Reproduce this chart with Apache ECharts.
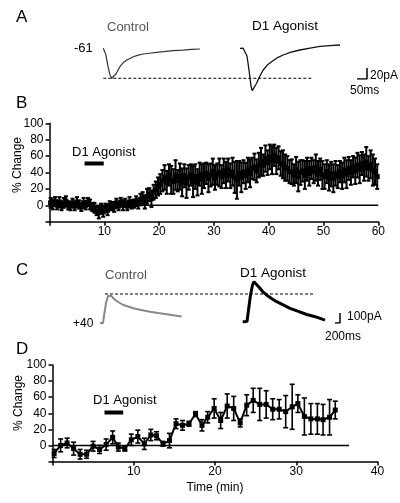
<!DOCTYPE html>
<html><head><meta charset="utf-8">
<script src="https://cdn.jsdelivr.net/npm/echarts/dist/echarts.min.js"></script>
<style>html,body{margin:0;padding:0;background:#fff}#c{width:400px;height:503px}</style>
</head><body><div id="c"></div>
<script>
// ---------- Panel B: % change, long recording (sampled every 0.4 min from 0.2 min) ----------
const bStart = 0.2, bStep = 0.4;
const bMean = [3,1,5,0,4,-1,3,5,0,-1, 3,-1,4,1,-2,3,0,4,1,-2, -3,-7,-9,-4,-8,-3,-6,0,-1,-2,
  3,-1,4,0,3,-1,4,1,2,5, 2,7,9,4,11,13,8,16,19,23, 26,30,34,28,37,31,29,37,30,35,
  28,36,27,34,37,29,35,28,38,32, 36,39,33,37,41,34,38,40,35,42, 37,43,36,41,34,31,39,34,41,36,
  43,39,45,47,42,49,53,49,57,52, 59,55,61,54,58,51,50,46,45,41, 41,37,43,35,40,42,37,44,39,45,
  41,46,39,44,37,35,41,34,38,33, 39,35,41,36,43,38,45,40,47,42, 49,44,51,46,53,45,50,43,41,35];
const bErr = [6,6,5,5,6,5,6,6,5,5, 5,5,6,5,5,6,5,5,6,5, 6,5,7,6,6,5,6,5,5,6,
  5,5,5,6,5,5,6,5,5,6, 6,7,7,8,9,8,10,9,10,11, 12,13,15,14,13,17,15,18,13,16,
  17,14,18,15,13,19,15,16,14,18, 15,13,17,14,16,15,13,17,14,15, 16,14,15,17,19,23,15,18,14,16,
  15,17,13,16,14,15,17,13,16,15, 15,17,13,16,14,15,17,16,15,14, 15,13,16,18,15,13,17,14,15,13,
  14,16,15,13,17,15,14,16,15,17, 15,14,13,16,15,17,14,15,13,16, 15,17,14,16,18,15,17,19,16,15];
const bDrug = [6.4, 9.9];      // D1 agonist application (min)
const bDrugLevel = 51;
const bZeroEnd = 60;
const bXTicks = [10,20,30,40,50,60];

// ---------- Panel D ----------
const dTime = [0.2,1.0,1.8,2.6,3.4,4.2,5.0,5.8,6.6,7.4,8.1,8.9,9.7,10.5,11.3,12.1,12.8,13.6,14.4,15.2,16.0,16.8,17.6,18.4,19.1,19.9,20.7,21.5,22.3,23.1,23.9,24.7,25.5,26.3,27.1,27.9,28.7,29.5,30.2,31.0,31.8,32.6,33.3,34.1,34.8];
const dMean = [-10,0,3,-4,-11,-11,-1,-5,1,10,-2,-4,7,11,2,13,12,2,6,27,25,27,39,25,35,46,31,49,46,28,50,56,51,51,45,45,42,48,52,36,33,33,32,35,44];
const dErr  = [5,8,6,8,6,5,6,5,7,8,5,3,7,8,7,7,5,3,9,6,6,3,3,7,7,12,10,15,15,5,13,15,20,17,13,12,20,28,11,23,19,19,19,22,11];
const dDrug = [6.4, 8.7];
const dDrugLevel = 41;
const dZeroEnd = 36.5;

// ---------- Panel A traces (ms, pA) at -61 mV ----------
const ctrlA = [[0,0],[6,-1.3],[13,-12],[23,-32],[33,-48],[42,-54.5],[51,-54],[63,-46.7],[83,-33.5],[100,-26],[117,-21.3],[135,-18],[150,-15.3],[175,-12.5],[200,-10.4],[230,-9],[267,-7.3],[300,-6.2],[350,-4.4],[400,-3.2],[440,-2],[483,-1.3]];
const d1A = [[0,0],[15,0.5],[25,-1.8],[35,-14],[45,-39.5],[55,-68.5],[61,-77],[70,-74],[83,-63.6],[100,-50],[116,-39.5],[135,-31],[158,-24.4],[185,-17.5],[216,-12.2],[255,-7],[300,-3.1],[350,0.5],[400,3.5],[450,5],[500,6]];
const scaleA = [50, 20]; // 50 ms, 20 pA

// ---------- Panel C traces (ms, pA) at +40 mV ----------
const ctrlC = [[0,0],[120,0],[160,70],[240,200],[320,270],[372,290],[440,272],[600,232],[760,205],[933,180],[1130,165],[1333,148],[1650,130],[2000,113],[2330,100],[2667,88],[3000,75],[3267,65]];
const d1C = [[0,0],[172,2],[232,117],[312,267],[392,367],[452,400],[532,387],[692,334],[820,295],[960,267],[1150,232],[1360,200],[1600,170],[1892,134],[2200,105],[2560,72],[2900,50],[3292,15]];
const scaleC = [200, 100]; // 200 ms, 100 pA

// ---------------- layout helpers ----------------
function tGrid(left, baseY, xMin, xMax, yMin, yMax, pxX, pxY) {
  return {left: left, top: baseY - yMax * pxY, width: (xMax - xMin) * pxX, height: (yMax - yMin) * pxY, outerBoundsMode: 'none'};
}
const FONT = '"Liberation Sans", Arial, sans-serif';
const pxMsA = 0.2, pxPaA = 0.55, pxMsC = 0.025, pxPaC = 0.1;

const grids = [
  {left: 49.5, top: 123.3, width: 328.8, height: 98.4, outerBoundsMode: 'none'},   // 0 B
  {left: 52.5, top: 365, width: 325, height: 96.5, outerBoundsMode: 'none'},       // 1 D
  tGrid(103.3, 48.3, 0, 500, -80, 20, pxMsA, pxPaA),     // 2 A control
  tGrid(240, 48.3, 0, 500, -80, 20, pxMsA, pxPaA),       // 3 A D1
  tGrid(103.3, 48.3, 0, 1050, -80, 20, pxMsA, pxPaA),    // 4 A dashed ref
  tGrid(357, 79, 0, 50, 0, 20, pxMsA, pxPaA),            // 5 A scale bar
  tGrid(100, 323, 0, 3400, -50, 450, pxMsC, pxPaC),      // 6 C control
  tGrid(242.7, 321.7, 0, 3400, -50, 450, pxMsC, pxPaC),  // 7 C D1
  tGrid(105, 323, 0, 8320, -50, 450, pxMsC, pxPaC),      // 8 C dashed ref
  tGrid(335, 323, 0, 200, 0, 100, pxMsC, pxPaC)          // 9 C scale bar
];
const hidden = [[0,500,-80,20],[0,500,-80,20],[0,1050,-80,20],[0,50,0,20],[0,3400,-50,450],[0,3400,-50,450],[0,8320,-50,450],[0,200,0,100]];

const axisLineStyle = {show: true, onZero: false, lineStyle: {color: '#000', width: 1.5}};
const tickStyle = {show: true, length: 4, lineStyle: {color: '#000', width: 1.5}};
const labelStyle = {color: '#000', fontSize: 12, fontFamily: FONT};

const xAxes = [
  {gridIndex: 0, type: 'value', min: 0, max: 60, interval: 10, axisLine: axisLineStyle, axisTick: tickStyle,
   axisLabel: Object.assign({margin: 4, formatter: v => bXTicks.includes(v) ? String(v) : ''}, labelStyle), splitLine: {show: false}},
  {gridIndex: 1, type: 'value', min: 0, max: 40, interval: 10, axisLine: axisLineStyle, axisTick: tickStyle,
   axisLabel: Object.assign({margin: 4, formatter: v => v === 0 ? '' : String(v)}, labelStyle), splitLine: {show: false},
   name: 'Time (min)', nameLocation: 'middle', nameGap: 20, nameTextStyle: {color: '#000', fontSize: 12, fontFamily: FONT}}
];
const yAxes = [
  {gridIndex: 0, type: 'value', min: -20, max: 100, interval: 20, axisLine: axisLineStyle, axisTick: tickStyle,
   axisLabel: Object.assign({margin: 6, formatter: v => v < 0 ? '' : String(v)}, labelStyle), splitLine: {show: false}},
  {gridIndex: 1, type: 'value', min: -20, max: 100, interval: 20, axisLine: axisLineStyle, axisTick: tickStyle,
   axisLabel: Object.assign({margin: 6, formatter: v => v < 0 ? '' : String(v)}, labelStyle), splitLine: {show: false}}
];
hidden.forEach((r, k) => {
  xAxes.push({gridIndex: k + 2, type: 'value', min: r[0], max: r[1], show: false});
  yAxes.push({gridIndex: k + 2, type: 'value', min: r[2], max: r[3], show: false});
});

function errSeries(idx, times, means, errs, cap, lw) {
  return {
    type: 'custom', xAxisIndex: idx, yAxisIndex: idx, silent: true, z: 3,
    data: times.map((t, i) => [t, means[i] - errs[i], means[i] + errs[i]]),
    encode: {x: 0, y: [1, 2]},
    renderItem: function (params, api) {
      const x = api.value(0);
      const lo = api.coord([x, api.value(1)]);
      const hi = api.coord([x, api.value(2)]);
      const st = {stroke: '#000', lineWidth: lw};
      return {type: 'group', children: [
        {type: 'line', shape: {x1: lo[0], y1: lo[1], x2: hi[0], y2: hi[1]}, style: st},
        {type: 'line', shape: {x1: hi[0] - cap, y1: hi[1], x2: hi[0] + cap, y2: hi[1]}, style: st},
        {type: 'line', shape: {x1: lo[0] - cap, y1: lo[1], x2: lo[0] + cap, y2: lo[1]}, style: st}
      ]};
    }
  };
}
function simpleLine(idx, data, color, width, extra) {
  return Object.assign({type: 'line', xAxisIndex: idx, yAxisIndex: idx, data: data, symbol: 'none', silent: true,
    lineStyle: {color: color, width: width}}, extra || {});
}

const bTimes = bMean.map((_, i) => +(bStart + i * bStep).toFixed(2));
const ctrlAMin = Math.min.apply(null, ctrlA.map(p => p[1]));
const ctrlCMax = Math.max.apply(null, ctrlC.map(p => p[1]));

const series = [
  // Panel B
  simpleLine(0, [[0, 0], [bZeroEnd, 0]], '#000', 1.5, {z: 1}),
  errSeries(0, bTimes, bMean, bErr, 2, 2),
  simpleLine(0, bTimes.map((t, i) => [t, bMean[i]]), '#000', 2.5, {symbol: 'rect', symbolSize: 5, itemStyle: {color: '#000'}, z: 4}),
  simpleLine(0, [[bDrug[0], bDrugLevel], [bDrug[1], bDrugLevel]], '#000', 4),
  // Panel D
  simpleLine(1, [[0, 0], [dZeroEnd, 0]], '#000', 1.5, {z: 1}),
  errSeries(1, dTime, dMean, dErr, 2.5, 1.6),
  simpleLine(1, dTime.map((t, i) => [t, dMean[i]]), '#000', 2, {symbol: 'rect', symbolSize: 5, itemStyle: {color: '#000'}, z: 4}),
  simpleLine(1, [[dDrug[0], dDrugLevel], [dDrug[1], dDrugLevel]], '#000', 4),
  // Panel A
  simpleLine(2, ctrlA, '#333', 1.2),
  simpleLine(3, d1A, '#111', 1.3),
  simpleLine(4, [[0, ctrlAMin], [1050, ctrlAMin]], '#000', 1, {lineStyle: {color: '#000', width: 1, type: [3, 2]}}),
  simpleLine(5, [[0, 0], [scaleA[0], 0], [scaleA[0], scaleA[1]]], '#000', 1.5),
  // Panel C
  simpleLine(6, ctrlC, '#888', 2),
  simpleLine(7, d1C, '#000', 3),
  simpleLine(8, [[0, ctrlCMax], [8320, ctrlCMax]], '#000', 1, {lineStyle: {color: '#000', width: 1, type: [3, 2]}}),
  simpleLine(9, [[0, 0], [scaleC[0], 0], [scaleC[0], scaleC[1]]], '#000', 1.5)
];

function txt(x, y, s, size, color, extra) {
  return Object.assign({type: 'text', x: x, y: y, silent: true,
    style: {text: s, fontSize: size, fontFamily: FONT, fill: color || '#000', textVerticalAlign: 'top'}}, extra || {});
}
const graphic = [
  txt(16, 9, 'A', 17), txt(16, 95, 'B', 17), txt(16, 262, 'C', 17), txt(16, 341, 'D', 17),
  txt(107, 21, 'Control', 13, '#555'),
  txt(252, 19, 'D1 Agonist', 13.5),
  txt(74, 42, '-61', 13),
  txt(370, 70, '20pA', 12), txt(350, 85, '50ms', 12),
  txt(72, 146, 'D1 Agonist', 13),
  {type: 'text', x: 18, y: 165, rotation: Math.PI / 2, silent: true,
   style: {text: '% Change', fontSize: 12, fontFamily: FONT, fill: '#000', textAlign: 'center', textVerticalAlign: 'middle'}},
  txt(105, 269, 'Control', 13, '#555'),
  txt(240, 266, 'D1 Agonist', 13.5),
  txt(73, 318, '+40', 12),
  txt(347, 311, '100pA', 12), txt(325, 331, '200ms', 12),
  txt(93, 394, 'D1 Agonist', 13),
  {type: 'text', x: 19, y: 403, rotation: Math.PI / 2, silent: true,
   style: {text: '% Change', fontSize: 12, fontFamily: FONT, fill: '#000', textAlign: 'center', textVerticalAlign: 'middle'}}
];

const chart = echarts.init(document.getElementById('c'), null, {renderer: 'canvas'});
chart.setOption({
  animation: false,
  backgroundColor: '#fff',
  grid: grids, xAxis: xAxes, yAxis: yAxes, series: series, graphic: graphic
});
</script></body></html>
